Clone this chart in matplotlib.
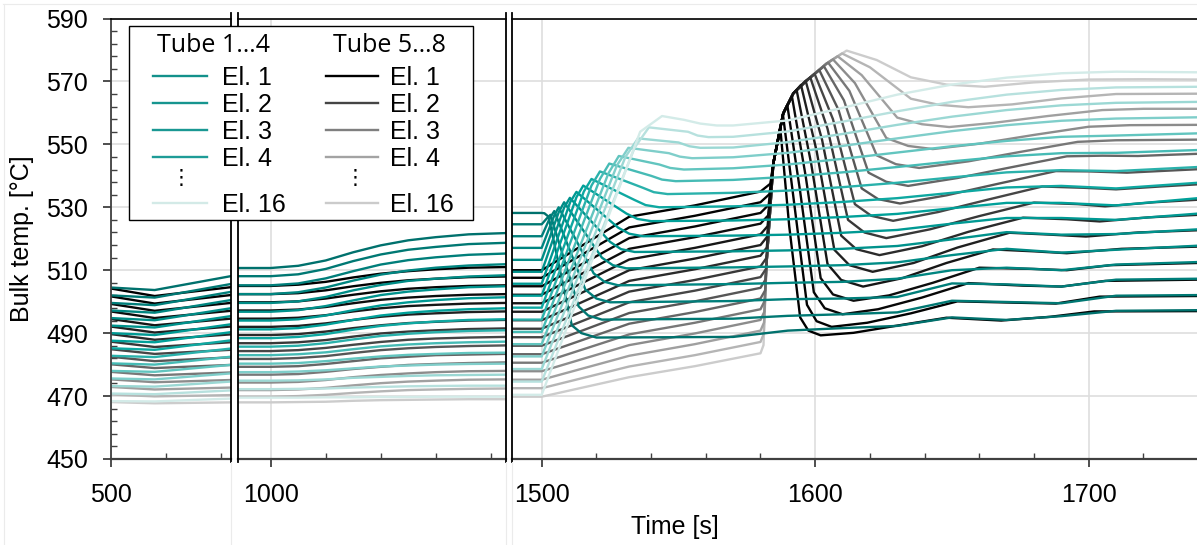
"""
Bulk temperature of the 16 elements in tube groups 1...4 and 5...8,
broken time axis (500-718 s, 941-1427 s, 1489-1740 s).
"""

# %%

import numpy as np
import matplotlib.pyplot as plt
from matplotlib.colors import LinearSegmentedColormap
from matplotlib.patches import Rectangle
from matplotlib.ticker import FixedLocator

plt.rcParams['font.family'] = ['Liberation Sans', 'DejaVu Sans']
plt.rcParams['font.size'] = 18

W, H = 1197, 545

# %% data (°C per element El.1 ... El.16)

# quiet period, values shared by every element at these times
pre_t = [500, 580, 718, 941, 1000, 1050, 1100, 1150, 1200, 1250, 1300, 1360, 1427, 1489, 1500]

teal_500 = [504.5, 502.0, 499.6, 497.2, 494.8, 492.4, 490.0, 487.6, 485.2, 482.8, 480.4, 478.0, 475.6, 473.2, 470.8, 468.4]
teal_580 = [503.7, 501.3, 498.9, 496.5, 494.1, 491.8, 489.4, 487.1, 484.7, 482.4, 480.0, 477.7, 475.3, 473.0, 470.6, 468.3]
teal_718 = [508.1, 505.6, 503.1, 500.5, 497.9, 495.4, 492.8, 490.3, 487.7, 485.1, 482.5, 479.9, 477.2, 474.6, 471.8, 469.2]
teal_1000 = [510.7, 508.1, 505.2, 502.4, 499.6, 496.8, 494.0, 491.2, 488.4, 485.7, 483.0, 480.3, 477.6, 474.9, 472.2, 469.5]
teal_1050 = [511.4, 508.7, 505.8, 503.0, 500.1, 497.3, 494.4, 491.6, 488.8, 486.0, 483.3, 480.5, 477.8, 475.0, 472.3, 469.5]
teal_1100 = [513.1, 510.4, 507.4, 504.5, 501.5, 498.6, 495.6, 492.7, 489.7, 486.8, 483.9, 481.1, 478.2, 475.3, 472.4, 469.6]
teal_1150 = [515.7, 512.9, 509.7, 506.7, 503.6, 500.4, 497.3, 494.2, 491.1, 488.0, 484.9, 481.9, 478.8, 475.8, 472.7, 469.6]
teal_1200 = [517.9, 515.0, 511.8, 508.6, 505.3, 502.1, 498.8, 495.6, 492.3, 489.1, 485.8, 482.6, 479.4, 476.1, 472.9, 469.7]
teal_1250 = [519.5, 516.5, 513.2, 509.9, 506.6, 503.2, 499.8, 496.5, 493.1, 489.8, 486.4, 483.1, 479.7, 476.4, 473.1, 469.7]
teal_1300 = [520.5, 517.4, 514.1, 510.8, 507.3, 503.9, 500.5, 497.1, 493.7, 490.3, 486.8, 483.4, 480.0, 476.6, 473.2, 469.8]
teal_1360 = [521.4, 518.3, 514.9, 511.5, 508.0, 504.6, 501.1, 497.6, 494.2, 490.7, 487.1, 483.7, 480.2, 476.7, 473.3, 469.8]
teal_1427 = [521.8, 518.7, 515.3, 511.9, 508.4, 504.9, 501.4, 497.9, 494.4, 490.9, 487.3, 483.8, 480.3, 476.8, 473.3, 469.8]
teal_1500 = [528.2, 524.6, 520.8, 517.1, 513.3, 509.5, 505.7, 501.9, 498.1, 494.3, 490.4, 486.5, 482.6, 478.6, 474.6, 470.4]

grey_500 = [504.2, 501.7, 499.3, 496.9, 494.5, 492.1, 489.7, 487.3, 484.9, 482.5, 480.1, 477.7, 475.3, 472.9, 470.5, 468.1]
grey_580 = [501.8, 499.4, 497.1, 494.8, 492.5, 490.2, 487.9, 485.6, 483.4, 481.1, 478.9, 476.6, 474.4, 472.1, 469.9, 467.7]
grey_718 = [504.6, 502.1, 499.6, 497.1, 494.6, 492.1, 489.6, 487.1, 484.7, 482.3, 479.9, 477.5, 475.1, 472.7, 470.3, 468.0]
grey_1000 = [505.0, 502.4, 499.8, 497.2, 494.6, 492.0, 489.4, 486.8, 484.3, 481.8, 479.3, 476.8, 474.3, 471.9, 469.8, 468.0]
grey_1050 = [505.4, 502.7, 500.1, 497.5, 494.9, 492.3, 489.7, 487.1, 484.6, 482.1, 479.5, 477.0, 474.5, 472.1, 470.0, 468.1]
grey_1100 = [506.3, 503.6, 501.0, 498.3, 495.7, 493.1, 490.5, 487.8, 485.3, 482.7, 480.2, 477.7, 475.1, 472.6, 470.4, 468.2]
grey_1150 = [507.7, 504.9, 502.2, 499.5, 496.9, 494.2, 491.6, 488.9, 486.3, 483.7, 481.1, 478.6, 476.0, 473.4, 471.0, 468.5]
grey_1200 = [508.9, 506.0, 503.3, 500.6, 497.9, 495.2, 492.5, 489.9, 487.2, 484.6, 482.0, 479.3, 476.7, 474.1, 471.5, 468.7]
grey_1250 = [509.7, 506.8, 504.1, 501.3, 498.6, 495.9, 493.2, 490.5, 487.9, 485.2, 482.5, 479.9, 477.2, 474.6, 471.9, 468.8]
grey_1300 = [510.3, 507.3, 504.6, 501.8, 499.0, 496.3, 493.6, 490.9, 488.3, 485.6, 483.0, 480.2, 477.6, 474.9, 472.1, 468.9]
grey_1360 = [510.8, 507.8, 505.0, 502.2, 499.4, 496.7, 494.0, 491.3, 488.6, 485.9, 483.2, 480.5, 477.9, 475.2, 472.3, 469.0]
grey_1427 = [511.0, 508.0, 505.2, 502.4, 499.6, 496.9, 494.2, 491.5, 488.8, 486.1, 483.4, 480.7, 478.0, 475.3, 472.4, 469.0]
grey_1500 = [510.0, 507.6, 504.9, 502.2, 499.5, 496.8, 494.1, 491.4, 488.7, 486.0, 483.3, 480.6, 477.9, 475.2, 472.5, 469.8]

# 941 s and 1489 s repeat the flat values read at 1000 s and 1500 s
teal_pre = [teal_500, teal_580, teal_718, teal_1000, teal_1000, teal_1050, teal_1100,
            teal_1150, teal_1200, teal_1250, teal_1300, teal_1360, teal_1427,
            teal_1500, teal_1500]
grey_pre = [grey_500, grey_580, grey_718, grey_1000, grey_1000, grey_1050, grey_1100,
            grey_1150, grey_1200, grey_1250, grey_1300, grey_1360, grey_1427,
            grey_1500, grey_1500]

# tube 1...4 after 1500 s: rise, peak, drop, knee, then plateau
teal_rise_t = [1501.0, 1501.8, 1503.0, 1504.6, 1506.3, 1508.2, 1510.4, 1512.7, 1515.4, 1518.2, 1521.3, 1524.4, 1527.5, 1530.6, 1534.0, 1536.0]
teal_rise_T = [528.1, 526.4, 526.6, 527.4, 528.6, 529.9, 531.6, 533.2, 535.0, 536.9, 539.0, 540.8, 543.3, 546.0, 549.0, 554.0]
teal_peak_t = [1502.5, 1503.2, 1504.6, 1506.2, 1508.2, 1510.3, 1512.7, 1515.2, 1518.2, 1521.3, 1524.7, 1528.2, 1531.7, 1535.2, 1539.2, 1544.0]
teal_peak_T = [527.0, 527.6, 528.8, 530.0, 531.6, 533.0, 534.9, 536.9, 539.0, 541.4, 543.9, 546.3, 548.9, 551.9, 555.4, 559.0]
teal_drop_t = [1511.0, 1513.5, 1516.0, 1519.0, 1522.0, 1525.0, 1528.0, 1531.0, 1534.0, 1537.0, 1540.0, 1543.0, 1546.5, 1550.0, 1553.5, 1552.0]
teal_drop_T = [492.5, 498.5, 503.8, 509.0, 514.0, 519.0, 523.5, 528.0, 532.3, 536.2, 540.0, 543.6, 547.2, 550.6, 554.0, 557.8]
teal_bend_t = [1514.5, 1517.0, 1520.0, 1523.0, 1526.0, 1529.0, 1532.0, 1535.0, 1538.0, 1541.0, 1544.0, 1547.0, 1550.5, 1554.0, 1557.0, 1558.0]
teal_bend_T = [490.0, 495.6, 501.0, 506.3, 511.6, 516.7, 521.6, 526.3, 530.7, 534.8, 538.8, 542.5, 546.1, 549.4, 552.8, 556.6]
teal_knee_t = [1520, 1522, 1525, 1528, 1531, 1534, 1537, 1540, 1543, 1546, 1549, 1552, 1555, 1558, 1561, 1564]
teal_knee_T = [488.6, 494.3, 499.8, 505.2, 510.6, 515.8, 520.8, 525.6, 530.0, 534.2, 538.3, 542.0, 545.6, 548.9, 552.3, 556.0]

plateau_t = [1570, 1590, 1610, 1630, 1650, 1670, 1690, 1710, 1740]
teal_plateau = [
    [488.8, 490.8, 491.6, 492.3, 495.0, 494.2, 495.4, 497.1, 497.3],
    [494.6, 495.5, 496.0, 496.6, 500.3, 499.9, 499.5, 501.9, 502.1],
    [500.2, 500.8, 501.0, 501.5, 505.8, 505.5, 504.8, 507.0, 507.3],
    [505.6, 506.0, 506.3, 507.3, 510.0, 510.8, 510.0, 511.8, 512.6],
    [510.9, 511.2, 511.6, 512.5, 514.8, 516.8, 515.6, 516.5, 517.8],
    [516.0, 516.3, 516.8, 517.7, 519.8, 522.1, 521.3, 521.5, 523.0],
    [521.0, 521.3, 521.9, 522.8, 524.8, 526.6, 526.6, 526.0, 528.0],
    [525.8, 526.2, 526.9, 527.9, 529.7, 531.4, 531.4, 530.6, 532.9],
    [530.3, 530.8, 531.7, 532.9, 534.6, 536.3, 536.8, 536.0, 537.8],
    [534.6, 535.3, 536.4, 537.8, 539.5, 541.1, 541.8, 541.5, 542.8],
    [538.7, 539.7, 541.1, 542.8, 544.6, 546.2, 547.2, 547.3, 548.2],
    [542.4, 543.6, 545.4, 547.4, 549.4, 551.1, 552.4, 552.8, 553.5],
    [545.9, 547.3, 549.5, 551.9, 554.2, 556.1, 557.5, 558.2, 558.6],
    [549.0, 550.7, 553.3, 556.2, 558.8, 560.9, 562.4, 563.2, 563.5],
    [552.4, 554.1, 557.2, 560.5, 563.5, 565.8, 567.3, 568.1, 568.3],
    [556.0, 557.6, 561.6, 565.8, 569.0, 571.2, 572.6, 573.1, 572.9],
]

# tube 5...8 after 1500 s: slow rise, steep front near 1582 s, drop, trough
grey_slow_t = [1532, 1556, 1580]
grey_1532 = [527.0, 523.6, 520.2, 516.8, 513.4, 510.0, 506.6, 503.2, 499.8, 496.4, 493.0, 489.6, 486.2, 482.8, 479.4, 476.0]
grey_1556 = [530.6, 527.3, 523.9, 520.5, 517.1, 513.7, 510.3, 506.9, 503.5, 500.1, 496.7, 493.3, 489.9, 486.5, 483.0, 479.5]
grey_1580 = [535.0, 531.6, 528.2, 524.8, 521.4, 518.0, 514.6, 511.2, 507.8, 504.4, 501.0, 497.6, 494.2, 490.8, 487.2, 483.6]
grey_slow = [grey_1532, grey_1556, grey_1580]

grey_entry_t = [1583.6, 1583.3, 1583.0, 1582.8, 1582.6, 1582.4, 1582.3, 1582.1, 1582.0, 1581.8, 1581.7, 1581.5, 1581.4, 1581.3, 1581.2, 1581.1]
grey_entry_T = [537.5, 534.2, 530.8, 527.4, 524.0, 520.6, 517.2, 513.8, 510.4, 507.0, 503.6, 500.2, 496.8, 493.4, 489.8, 486.2]

# leading edge of the front, shared by all elements until their peak
wall_t = [1582.2, 1584.7, 1588.3, 1592.0, 1597.0, 1604.2]
wall_T = [512.0, 544.0, 559.8, 566.2, 570.4, 575.7]

grey_peak_t = [1587.2, 1588.2, 1589.8, 1591.5, 1593.2, 1594.8, 1596.5, 1598.2, 1599.8, 1601.5, 1603.2, 1604.8, 1606.5, 1608.2, 1609.8, 1611.5]
grey_peak_T = [555.5, 559.5, 562.5, 565.2, 567.3, 568.9, 570.2, 571.3, 572.4, 573.6, 574.8, 575.9, 577.0, 578.0, 578.9, 579.8]
grey_d1_t = [1590.5, 1592.5, 1594.5, 1596.5, 1598.5, 1600.5, 1602.5, 1604.5, 1606.5, 1608.5, 1610.5, 1612.5, 1614.5, 1617.0, 1620.0, 1622.5]
grey_d1_T = [524.0, 530.0, 535.0, 540.0, 544.0, 548.0, 551.5, 555.0, 558.0, 561.0, 564.0, 567.0, 569.5, 572.0, 574.5, 576.8]
grey_d2_t = [1594.5, 1597.0, 1599.5, 1602.0, 1604.5, 1607.0, 1609.5, 1612.0, 1614.5, 1617.0, 1619.5, 1622.5, 1626.0, 1630.0, 1635.0, 1635.0]
grey_d2_T = [495.0, 499.0, 503.0, 507.5, 512.0, 516.5, 521.0, 526.0, 531.0, 536.0, 541.0, 546.5, 552.0, 558.5, 564.5, 571.3]
grey_d3_t = [1597.5, 1600.5, 1603.5, 1606.5, 1609.5, 1612.5, 1615.0, 1618.0, 1620.5, 1623.0, 1626.0, 1629.5, 1634.0, 1639.0, 1645.0, 1648.0]
grey_d3_T = [490.8, 493.8, 497.9, 502.3, 506.9, 511.6, 516.7, 522.0, 527.3, 532.6, 538.1, 543.7, 549.5, 556.4, 562.6, 569.0]
grey_trough_t = [1602.0, 1606.0, 1610.0, 1614.0, 1617.5, 1621.0, 1623.5, 1626.0, 1628.5, 1631.0, 1634.0, 1638.0, 1643.0, 1649.0, 1656.0, 1662.0]
grey_trough_T = [489.3, 492.0, 496.0, 500.3, 504.8, 509.5, 514.8, 520.2, 525.7, 531.2, 536.8, 542.5, 548.5, 555.5, 561.8, 568.3]

grey_post_t = [
    [1614, 1630, 1648, 1668, 1686, 1702, 1740],
    [1619, 1635, 1652, 1672, 1688, 1704, 1740],
    [1623, 1639, 1656, 1676, 1690, 1706, 1740],
    [1627, 1643, 1660, 1680, 1692, 1708, 1740],
    [1632, 1648, 1665, 1680, 1692, 1712, 1740],
    [1636, 1652, 1671, 1686, 1699, 1718, 1740],
    [1639, 1656, 1676, 1692, 1704, 1722, 1740],
    [1642, 1660, 1680, 1696, 1706, 1724, 1740],
    [1645, 1663, 1683, 1698, 1710, 1726, 1740],
    [1648, 1667, 1688, 1700, 1714, 1728, 1740],
    [1652, 1671, 1692, 1705, 1718, 1730, 1740],
    [1656, 1675, 1696, 1710, 1725, 1740],
    [1660, 1680, 1700, 1715, 1740],
    [1665, 1685, 1705, 1720, 1740],
    [1672, 1690, 1710, 1740],
    [1680, 1700, 1720, 1740],
]
grey_post_T = [
    [490.1, 492.4, 494.9, 494.0, 495.2, 496.9, 497.0],
    [493.3, 496.3, 500.1, 499.7, 499.4, 501.6, 501.8],
    [497.6, 501.3, 505.9, 505.1, 504.8, 506.6, 507.0],
    [502.0, 506.0, 510.8, 510.4, 510.0, 511.6, 512.3],
    [507.5, 512.3, 516.6, 516.0, 515.4, 516.8, 517.5],
    [512.3, 517.2, 521.9, 521.3, 520.7, 522.0, 522.7],
    [517.6, 522.2, 526.7, 526.2, 525.5, 526.8, 527.6],
    [523.0, 527.2, 531.5, 531.0, 530.3, 531.6, 532.4],
    [528.5, 532.4, 536.6, 536.2, 535.7, 536.6, 537.3],
    [533.8, 537.5, 541.5, 541.4, 541.0, 541.6, 542.1],
    [539.3, 542.6, 546.2, 546.4, 546.3, 546.7, 547.0],
    [544.6, 547.6, 550.8, 551.3, 551.4, 551.5],
    [550.2, 553.0, 555.6, 556.1, 556.2],
    [556.8, 559.0, 560.9, 561.3, 561.3],
    [562.7, 564.6, 566.0, 566.1],
    [569.7, 570.6, 570.7, 570.6],
]

y_major = list(range(450, 591, 20))
y_minor = list(range(450, 591, 4))

legend_rows = ["El. 1", "El. 2", "El. 3", "El. 4", "El. 16"]
legend_teal = ['#13918b', '#16958f', '#1a9893', '#1e9c97', '#d3eae7']
legend_grey = ['#000000', '#454545', '#7f7f7f', '#a3a3a3', '#cbcbcb']

# %% series


def teal_series(k):
    t = (pre_t
         + [teal_rise_t[k], teal_peak_t[k], teal_drop_t[k], teal_bend_t[k], teal_knee_t[k]]
         + plateau_t)
    T = ([row[k] for row in teal_pre]
         + [teal_rise_T[k], teal_peak_T[k], teal_drop_T[k], teal_bend_T[k], teal_knee_T[k]]
         + teal_plateau[k])
    return t, T


def grey_series(k):
    t = pre_t + grey_slow_t + [grey_entry_t[k]]
    T = [row[k] for row in grey_pre] + [row[k] for row in grey_slow] + [grey_entry_T[k]]
    for wt, wT in zip(wall_t, wall_T):
        if grey_entry_t[k] < wt < grey_peak_t[k] and grey_entry_T[k] < wT < grey_peak_T[k]:
            t.append(wt)
            T.append(wT)
    t += [grey_peak_t[k], grey_d1_t[k], grey_d2_t[k], grey_d3_t[k], grey_trough_t[k]] + grey_post_t[k]
    T += [grey_peak_T[k], grey_d1_T[k], grey_d2_T[k], grey_d3_T[k], grey_trough_T[k]] + grey_post_T[k]
    return t, T


teal_cmap = LinearSegmentedColormap.from_list('teal', ['#00716d', '#00a39c', '#d3ebe8'])
teal_colors = [teal_cmap(i / 15) for i in range(16)]
grey_colors = [str(0.8 * (i / 15) ** 1.7) for i in range(16)]

# %% figure

fig = plt.figure(figsize=(W / 100, H / 100), dpi=100)


def px_box(x0, x1, y_top=18.5, y_bot=459):
    return [x0 / W, 1 - y_bot / H, (x1 - x0) / W, (y_bot - y_top) / H]


ax1 = fig.add_axes(px_box(110.7, 230.7))
ax2 = fig.add_axes(px_box(238.3, 505.7))
ax3 = fig.add_axes(px_box(512.3, 1197))

segments = [
    (ax1, (500, 718.2), [500], [600, 700]),
    (ax2, (941.1, 1427.3), [1000], [1100, 1200, 1300, 1400]),
    (ax3, (1489.25, 1739.6), [1500, 1600, 1700],
     [1520, 1540, 1560, 1580, 1620, 1640, 1660, 1680, 1720]),
]

for ax, lim, major, minor in segments:
    for k in range(15, -1, -1):
        t, T = grey_series(k)
        ax.plot(t, T, color=grey_colors[k], lw=1.7, solid_joinstyle='round')
    for k in range(16):
        t, T = teal_series(k)
        ax.plot(t, T, color=teal_colors[k], lw=1.7, solid_joinstyle='round')

    ax.set_xlim(*lim)
    ax.set_ylim(450, 590)
    ax.xaxis.set_major_locator(FixedLocator(major))
    ax.xaxis.set_minor_locator(FixedLocator(minor))
    ax.yaxis.set_major_locator(FixedLocator(y_major))
    ax.yaxis.set_minor_locator(FixedLocator(y_minor))
    ax.set_axisbelow(True)
    ax.grid(which='major', color='#dedede', lw=1.2)
    ax.tick_params(which='major', direction='out', length=5.5, width=1.3,
                   color='#404040', labelsize=18)
    ax.tick_params(which='minor', direction='in', length=4.3, width=1.0,
                   color='#404040')
    ax.tick_params(axis='x', which='major', pad=12)
    ax.spines['top'].set_color('black')
    ax.spines['top'].set_linewidth(1.2)
    ax.spines['bottom'].set_color('#404040')
    ax.spines['bottom'].set_linewidth(1.6)
    ax.spines['right'].set_visible(False)
    if ax is ax1:
        ax.spines['left'].set_color('#404040')
        ax.spines['left'].set_linewidth(1.3)
        ax.tick_params(axis='y', which='major', pad=11)
    else:
        ax.spines['left'].set_visible(False)
        ax.tick_params(axis='y', which='both', left=False, labelleft=False)

fig.text(22 / W, 1 - 238.8 / H, 'Bulk temp. [°C]', rotation=90,
         ha='center', va='center', fontsize=18)
fig.text(675 / W, 1 - 527 / H, 'Time [s]', ha='center', va='center', fontsize=18)

# %% legend and axis breaks, drawn in pixel coordinates

ov = fig.add_axes([0, 0, 1, 1], zorder=10)
ov.set_xlim(0, W)
ov.set_ylim(H, 0)
ov.axis('off')

# faint panel borders of the original figure
for xs, ys in [([3, W], [4, 4]), ([3.5, 3.5], [4, H]),
               ([230.7, 230.7], [462, H]), ([505.7, 505.7], [462, H]),
               ([512.3, 512.3], [462, H])]:
    ov.plot(xs, ys, color='#ebebeb', lw=0.8)

for x in [230.7, 238.3, 505.7, 512.3]:
    ov.plot([x, x], [13, 462], color='black', lw=1.3, zorder=1)

ov.add_patch(Rectangle((129, 25.7), 344, 194.3, facecolor='white',
                       edgecolor='black', lw=1.0, zorder=2))

row_y = [76, 103.3, 129.7, 157, 203.3]
columns = [
    ("Tube 1…4", 157, 153.3, 206.7, 221.7, 181, legend_teal),
    ("Tube 5…8", 333, 326.0, 378.3, 390.0, 355, legend_grey),
]
for title, title_x, h0, h1, text_x, dots_x, colors in columns:
    ov.text(title_x, 51.5, title, family=['Open Sans', 'DejaVu Sans'],
            fontsize=18, ha='left', va='baseline', zorder=3)
    for label, y, c in zip(legend_rows, row_y, colors):
        ov.plot([h0, h1], [y, y], color=c, lw=1.7, zorder=3)
        ov.text(text_x, y + 9, label, fontsize=18, ha='left', va='baseline', zorder=3)
    ov.text(dots_x, 178, '⋮', family=['DejaVu Sans'], fontsize=15,
            ha='center', va='center', zorder=3)

fig.savefig("out.png", dpi=100)
